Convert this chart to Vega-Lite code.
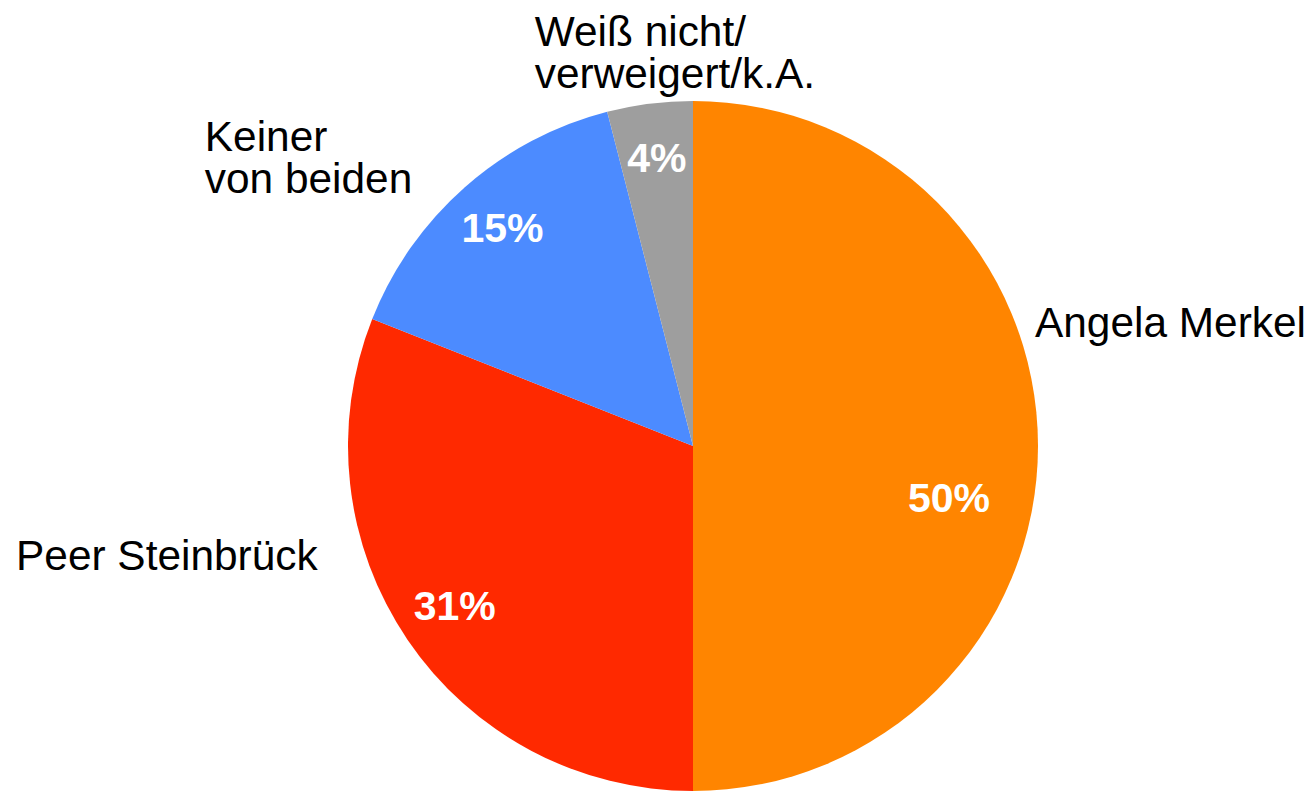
{
  "$schema": "https://vega.github.io/schema/vega-lite/v6.json",
  "width": 1238,
  "height": 690,
  "autosize": {"type": "none"},
  "padding": {"left": 74, "top": 101, "right": 0, "bottom": 0},
  "background": "white",
  "config": {"view": {"stroke": null}, "text": {"font": "Liberation Sans"}},
  "data": {
    "values": [
      {"name": "Angela Merkel", "share": 50, "share_label": "50%", "rank": 1},
      {"name": "Peer Steinbrück", "share": 31, "share_label": "31%", "rank": 2},
      {"name": "Keiner\nvon beiden", "share": 15, "share_label": "15%", "rank": 3},
      {"name": "Weiß nicht/\nverweigert/k.A.", "share": 4, "share_label": "4%", "rank": 4}
    ]
  },
  "encoding": {
    "theta": {"field": "share", "type": "quantitative", "stack": true},
    "order": {"field": "rank", "type": "quantitative"}
  },
  "layer": [
    {
      "mark": {"type": "arc", "outerRadius": 345},
      "encoding": {
        "color": {
          "field": "name",
          "type": "nominal",
          "scale": {
            "domain": ["Angela Merkel", "Peer Steinbrück", "Keiner\nvon beiden", "Weiß nicht/\nverweigert/k.A."],
            "range": ["#ff8500", "#ff2900", "#4c8bff", "#9e9e9e"]
          },
          "legend": null
        }
      }
    },
    {
      "mark": {"type": "text", "radius": 288, "fontSize": 41, "fontWeight": "bold", "fill": "white", "align": "center", "baseline": "middle"},
      "encoding": {"text": {"condition": {"test": "datum.rank != 1", "field": "share_label", "type": "nominal"}, "value": ""}}
    },
    {
      "mark": {"type": "text", "radius": 288, "fontSize": 41, "fontWeight": "bold", "fill": "white", "align": "center", "baseline": "middle", "dx": -32, "dy": 54},
      "encoding": {"text": {"condition": {"test": "datum.rank == 1", "field": "share_label", "type": "nominal"}, "value": ""}}
    },
    {
      "mark": {"type": "text", "radius": 345, "fontSize": 42.4, "fill": "black", "align": "left", "baseline": "alphabetic", "lineBreak": "\n", "lineHeight": 42, "dx": -3, "dy": -109},
      "encoding": {"text": {"condition": {"test": "datum.rank == 1", "field": "name", "type": "nominal"}, "value": ""}}
    },
    {
      "mark": {"type": "text", "radius": 345, "fontSize": 42.4, "fill": "black", "align": "right", "baseline": "alphabetic", "lineBreak": "\n", "lineHeight": 42, "dx": -90, "dy": -70},
      "encoding": {"text": {"condition": {"test": "datum.rank == 2", "field": "name", "type": "nominal"}, "value": ""}}
    },
    {
      "mark": {"type": "text", "radius": 345, "fontSize": 42.4, "fill": "black", "align": "left", "baseline": "alphabetic", "lineBreak": "\n", "lineHeight": 42, "dx": -260, "dy": -36},
      "encoding": {"text": {"condition": {"test": "datum.rank == 3", "field": "name", "type": "nominal"}, "value": ""}}
    },
    {
      "mark": {"type": "text", "radius": 345, "fontSize": 42.4, "fill": "black", "align": "left", "baseline": "alphabetic", "lineBreak": "\n", "lineHeight": 42, "dx": -115, "dy": -58},
      "encoding": {"text": {"condition": {"test": "datum.rank == 4", "field": "name", "type": "nominal"}, "value": ""}}
    }
  ]
}
